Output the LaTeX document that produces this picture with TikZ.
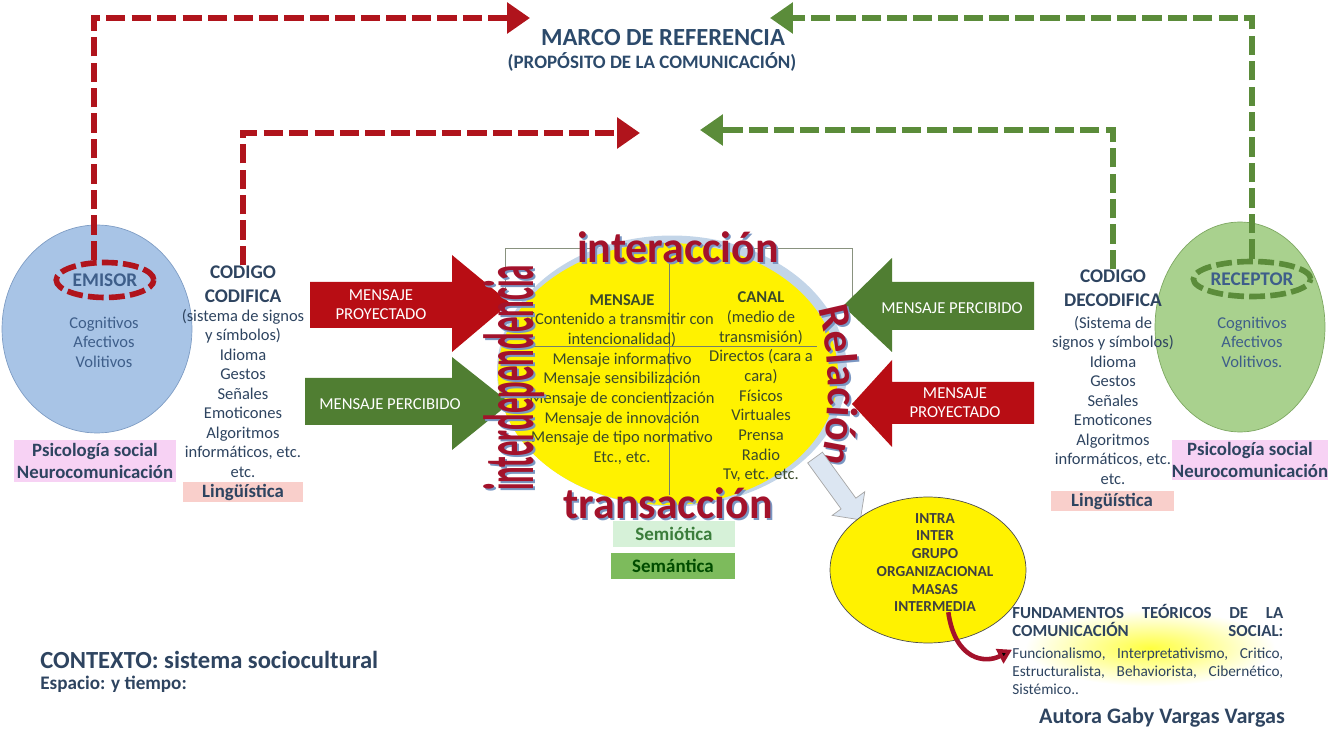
\documentclass[tikz,border=0pt]{standalone}
\usepackage{fontspec}
\setmainfont{Carlito}
\usetikzlibrary{arrows.meta,shapes.geometric,shapes.arrows,positioning,decorations.text}

\definecolor{wred}{HTML}{A3122B}
\definecolor{wshad}{HTML}{7A96C2}
\definecolor{arrred}{HTML}{B80D14}
\definecolor{arrgreen}{HTML}{507E32}
\definecolor{dashred}{HTML}{B0141C}
\definecolor{dashgreen}{HTML}{5B8C3A}
\definecolor{emfill}{HTML}{A8C4E6}
\definecolor{emline}{HTML}{7F9DC4}
\definecolor{refill}{HTML}{A9D18E}
\definecolor{reline}{HTML}{7EA862}
\definecolor{ink}{HTML}{2E4460}
\definecolor{inkb}{HTML}{3E5E8A}
\definecolor{titleblue}{HTML}{2C4A6B}
\definecolor{olive}{HTML}{3B4A2A}
\definecolor{halo}{HTML}{C3D5E8}
\definecolor{pinkhl}{HTML}{F7D2F4}
\definecolor{salmonhl}{HTML}{F9CFCB}
\definecolor{semio}{HTML}{D6F1D8}
\definecolor{seman}{HTML}{7DBB5C}
\definecolor{semtext}{HTML}{3B7D3B}
\definecolor{lightarr}{HTML}{DCE6F2}

\tikzset{
  body/.style={font=\fontsize{9.4}{11.1}\selectfont, align=center, text=ink, inner sep=0pt},
  cellbody/.style={font=\fontsize{9.4}{11.2}\selectfont, align=center, text=olive, inner sep=0pt},
  heading/.style={font=\bfseries\fontsize{11}{13.6}\selectfont, align=center, text=ink, inner sep=0pt},
  hl/.style={font=\bfseries\fontsize{10.7}{12}\selectfont, align=center, text=ink, inner sep=0pt},
  tagell/.style={ellipse, draw=#1, line width=3.2pt, dash pattern=on 9pt off 3pt,
    minimum width=1.95cm, minimum height=0.7cm, inner sep=0pt,
    font=\bfseries\fontsize{11}{12}\selectfont, text=inkb},
  fdash/.style={draw=#1, line width=3.4pt, dash pattern=on 11pt off 3.5pt,
    -{Triangle[length=13pt,width=17pt]}},
  arrtext/.style={text=white, font=\fontsize{9.5}{10.8}\selectfont, align=center, inner sep=0pt},
  wordart/.style={text=wred, font=\bfseries\fontsize{#1}{#1}\selectfont, inner sep=0pt},
  wshadow/.style={text=wshad, font=\bfseries\fontsize{#1}{#1}\selectfont, inner sep=0pt},
  curvearr/.style={draw=wred, line width=2.6pt, -{Triangle[length=8pt,width=9pt]}},
}

\begin{document}
\begin{tikzpicture}[x=0.02cm, y=-0.02cm]
  \useasboundingbox (0,0) rectangle (1329,729);

  % emisor
  \node[ellipse, draw=emline, fill=emfill, minimum width=3.8cm, minimum height=4.16cm] (emisor) at (97,329) {};
  \node[tagell=dashred] (emtag) at (105,280) {EMISOR};
  \node[body, text=inkb] (emfac) at (104,342) {Cognitivos\\Afectivos\\Volitivos};
  \node[hl, fill=pinkhl, minimum width=3.24cm, minimum height=0.86cm] (empsi) at (95,461) {Psicología social\\Neurocomunicación};

  \node[heading] (codtit) at (243,284) {CODIGO\\CODIFICA};
  \node[body] (codbody) at (243,393.5) {(sistema de signos\\y símbolos)\\Idioma\\Gestos\\Señales\\Emoticones\\Algoritmos\\informáticos, etc.\\etc.};
  \node[hl, fill=salmonhl, minimum width=2.4cm, minimum height=0.4cm] (codling) at (243,492) {Lingüística};

  % receptor
  \node[ellipse, draw=reline, fill=refill, minimum width=3.4cm, minimum height=4.2cm] (receptor) at (1240,327) {};
  \node[tagell=dashgreen] (rectag) at (1252,279) {RECEPTOR};
  \node[body, text=inkb] (refac) at (1252,342) {Cognitivos\\Afectivos\\Volitivos.};
  \node[hl, fill=pinkhl, minimum width=3.14cm, minimum height=0.82cm] (repsi) at (1250,460) {Psicología social\\Neurocomunicación};

  \node[heading] (dectit) at (1113,288) {CODIGO\\DECODIFICA};
  \node[body] (decbody) at (1113,400.5) {(Sistema de\\signos y símbolos)\\Idioma\\Gestos\\Señales\\Emoticones\\Algoritmos\\informáticos, etc.\\etc.};
  \node[hl, fill=salmonhl, minimum width=2.46cm, minimum height=0.42cm] (decling) at (1112,501) {Lingüística};

  % marco de referencia
  \node[font=\bfseries\fontsize{14}{16}\selectfont, text=titleblue] (marco) at (663,38) {MARCO DE REFERENCIA};
  \node[font=\bfseries\fontsize{10.8}{12}\selectfont, text=titleblue] (proposito) at (652,62) {(PROPÓSITO DE LA COMUNICACIÓN)};
  \coordinate (refL) at (530,18);
  \coordinate (refR) at (770,18);
  \coordinate (propL) at (640,133);
  \coordinate (propR) at (700,130);
  \draw[fdash=dashred] (emtag.120) |- (refL);
  \draw[fdash=dashred] (codtit.north) |- (propL);
  \draw[fdash=dashgreen] (rectag.north) |- (refR);
  \draw[fdash=dashgreen] (dectit.north) |- (propR);

  % centro
  \draw[olive!60] (505,290) -- (505,248) -- (852,248) -- (852,300);
  \node[ellipse, fill=halo, minimum width=7.0cm, minimum height=5.42cm] (halo) at (672,371) {};
  \node[ellipse, fill=yellow, minimum width=6.8cm, minimum height=5.24cm] (centro) at (668,374) {};
  \draw[olive!70] (669,250) -- (669,495);
  \draw[olive!70] (520,346) -- (817,346);
  \node[cellbody] (mensaje) at (622,379.5) {\textbf{MENSAJE}\\(Contenido a transmitir con\\intencionalidad)\\Mensaje informativo\\Mensaje sensibilización\\Mensaje de concientización\\Mensaje de innovación\\Mensaje de tipo normativo\\Etc., etc.};
  \node[cellbody] (canal) at (761,387) {\textbf{CANAL}\\(medio de\\transmisión)\\Directos (cara a\\cara)\\Físicos\\Virtuales\\Prensa\\Radio\\Tv, etc. etc.};

  % flechas de mensaje
  \fill[arrred] (310,282) -- (452,282) -- (452,255) -- (510,303) -- (452,352) -- (452,328) -- (310,328) -- cycle;
  \node[arrtext] (proyL) at (381,305) {MENSAJE\\PROYECTADO};
  \fill[arrgreen] (305,378) -- (452,378) -- (452,357) -- (510,403) -- (452,450) -- (452,425) -- (305,425) -- cycle;
  \node[arrtext] (percL) at (390,404) {MENSAJE PERCIBIDO};
  \fill[arrgreen] (1034,282) -- (892,282) -- (892,258) -- (843,306) -- (892,352) -- (892,330) -- (1034,330) -- cycle;
  \node[arrtext] (percR) at (952,308) {MENSAJE PERCIBIDO};
  \fill[arrred] (1034,382) -- (892,382) -- (892,360) -- (852,404) -- (892,447) -- (892,424) -- (1034,424) -- cycle;
  \node[arrtext] (proyR) at (955,403) {MENSAJE\\PROYECTADO};

  % palabras
  \node[wshadow=25] at (680,249) {interacción};
  \node[wordart=25] (interac) at (678,247) {interacción};
  \node[wshadow=25] at (670,505) {transacción};
  \node[wordart=25] (transac) at (668,503) {transacción};
  \node[wshadow=17.6, rotate=90, yscale=2.3] at (516,380) {interdependencia};
  \node[wordart=17.6, rotate=90, yscale=2.3] (interdep) at (514,378) {interdependencia};
  \path[decorate, decoration={text along path, text color=wshad, text align=center,
    text={|\bfseries\fontsize{25}{25}\selectfont|Relación}}]
    (817,302) .. controls (834,347) and (834,427) .. (820,474);
  \path[decorate, decoration={text along path, text color=wred, text align=center,
    text={|\bfseries\fontsize{25}{25}\selectfont|Relación}}]
    (815,300) .. controls (832,345) and (832,425) .. (818,472);

  \node[single arrow, draw=gray!70, fill=lightarr, rotate=-54, minimum height=1.54cm,
    single arrow head extend=0.22cm, inner sep=5pt] (flecha) at (835,485) {};

  \node[font=\bfseries\fontsize{10.8}{12}\selectfont, text=semtext, fill=semio, minimum width=2.44cm, minimum height=0.4cm] (semio) at (674,534) {Semiótica};
  \node[font=\bfseries\fontsize{10.8}{12}\selectfont, text=green!30!black, fill=seman, minimum width=2.48cm, minimum height=0.42cm] (seman) at (673,566) {Semántica};

  % niveles
  \node[ellipse, draw=black!70, fill=yellow, minimum width=3.92cm, minimum height=2.92cm] (ambell) at (928,570) {};
  \node[font=\bfseries\fontsize{8.7}{10.1}\selectfont, align=center, text=black!75, inner sep=0pt] (ambitos) at (935,562.5) {INTRA\\INTER\\GRUPO\\ORGANIZACIONAL\\MASAS\\INTERMEDIA};

  % fundamentos
  \shade[inner color=yellow!75, outer color=white] (1150,648) ellipse [x radius=2.5cm, y radius=0.76cm];
  \node[anchor=north west, text width=5.42cm, inner sep=0pt, text=ink, font=\fontsize{8.7}{10.5}\selectfont] (fund) at (1012,604)
    {\makebox[\linewidth][l]{\bfseries\fontsize{9.6}{10.5}\selectfont FUNDAMENTOS\hfill TEÓRICOS\hfill DE\hfill LA}\\
     \makebox[\linewidth][l]{\bfseries\fontsize{9.6}{10.5}\selectfont COMUNICACIÓN\hfill SOCIAL:}\\[1.5pt]
     \makebox[\linewidth][l]{Funcionalismo,\hfill Interpretativismo,\hfill Critico,}\\
     \makebox[\linewidth][l]{Estructuralista,\hfill Behaviorista,\hfill Cibernético,}\\
     Sistémico..};
  \draw[curvearr] (ambitos.-75) .. controls (955,660) and (985,664) .. (fund.west);

  % contexto
  \node[anchor=west, font=\bfseries\fontsize{14}{16}\selectfont, text=ink, inner sep=0pt] (contexto) at (40,660) {CONTEXTO: sistema sociocultural};
  \node[anchor=west, font=\bfseries\fontsize{10.9}{12}\selectfont, text=ink, inner sep=0pt] (espacio) at (40,684) {Espacio: y tiempo:};
  \node[font=\bfseries\fontsize{12.6}{14}\selectfont, text=ink] (autora) at (1162,718) {Autora Gaby Vargas Vargas};
\end{tikzpicture}
\end{document}
